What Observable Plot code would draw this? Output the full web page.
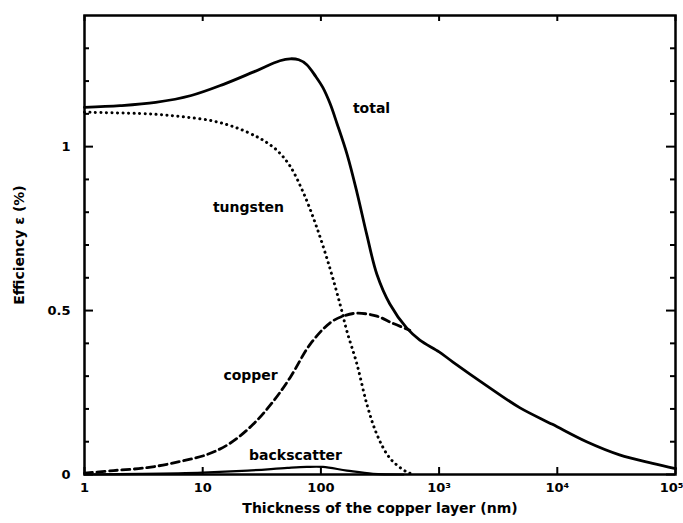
<!DOCTYPE html>
<html><head><meta charset="utf-8">
<script src="https://cdn.jsdelivr.net/npm/d3@7"></script>
<script src="https://cdn.jsdelivr.net/npm/@observablehq/plot@0.6"></script>
<style>body{margin:0;background:#fff} svg{display:block}</style>
</head><body><div id="chart"></div>
<script>
// Thickness of the copper layer (nm) and efficiency (%) per contribution
const totalT = [1, 2, 4, 8, 15, 27, 45, 55, 65, 76, 90, 104, 120, 137, 167, 202, 245, 298, 383, 531, 687, 1000, 1310, 2500, 4800, 9100, 17700, 33600, 64000, 100000];
const totalE = [1.12, 1.125, 1.135, 1.156, 1.19, 1.228, 1.262, 1.268, 1.265, 1.25, 1.215, 1.18, 1.13, 1.07, 0.975, 0.86, 0.73, 0.61, 0.52, 0.447, 0.41, 0.374, 0.343, 0.272, 0.204, 0.153, 0.10, 0.06, 0.034, 0.018];

const tungstenT = [1, 3.4, 6.5, 12.3, 19.5, 28.8, 35, 43.6, 55, 71, 92, 119, 145, 166, 202, 245, 298, 383, 531, 620];
const tungstenE = [1.105, 1.10, 1.092, 1.078, 1.057, 1.03, 1.012, 0.985, 0.94, 0.86, 0.755, 0.63, 0.52, 0.437, 0.336, 0.214, 0.122, 0.05, 0.008, 0];

const copperT = [1, 1.76, 3.4, 6.5, 10.9, 17, 26.7, 39.5, 55, 81, 119, 154, 202, 298, 406, 565];
const copperE = [0.004, 0.012, 0.021, 0.04, 0.061, 0.095, 0.153, 0.223, 0.296, 0.397, 0.462, 0.483, 0.492, 0.483, 0.461, 0.44];

const backT = [1, 3, 10, 24, 52, 76, 104, 166, 276, 500];
const backE = [0, 0.002, 0.006, 0.012, 0.02, 0.023, 0.023, 0.012, 0.002, 0];

const xTicks = [1, 10, 100, 1000, 10000, 100000];
const xTickLabels = ["1", "10", "100", "10³", "10⁴", "10⁵"];
const yMajorTicks = [0, 0.5, 1];
const yTickLabels = ["0", "0.5", "1"];
const yMinorTicks = [0.1, 0.2, 0.3, 0.4, 0.6, 0.7, 0.8, 0.9, 1.1, 1.2, 1.3];

const curveLabels = ["total", "tungsten", "copper", "backscatter"];
const labelT = [268, 24.4, 25.4, 61];
const labelE = [1.116, 0.814, 0.302, 0.058];

const xTitle = "Thickness of the copper layer (nm)";
const yTitle = "Efficiency ε (%)";

const W = 683, H = 523, mL = 84, mR = 8, mT = 15, mB = 49;
const pw = W - mL - mR, ph = H - mT - mB;
const series = (t, e) => t.map((d, i) => ({t: d, e: e[i]}));
const fmtX = d => xTickLabels[xTicks.indexOf(d)];

const chart = Plot.plot({
  width: W, height: H,
  marginLeft: mL, marginRight: mR, marginTop: mT, marginBottom: mB,
  style: {fontFamily: "DejaVu Sans", fontWeight: "bold", fontSize: "13px", color: "black", background: "white"},
  x: {type: "log", domain: [1, 1e5], label: null},
  y: {domain: [0, 1.4], label: null},
  marks: [
    Plot.axisX({ticks: xTicks.slice(0, -1), anchor: "bottom", tickSize: 0, tickPadding: 8, label: null,
      tickFormat: fmtX, fontSize: 13}),
    Plot.axisX({ticks: xTicks.slice(-1), anchor: "bottom", tickSize: 0, tickPadding: 8, label: null,
      tickFormat: fmtX, fontSize: 13, textAnchor: "end", dx: 8}),
    Plot.axisY({ticks: yMajorTicks, anchor: "left", tickSize: 0, tickPadding: 14, label: null,
      tickFormat: d => yTickLabels[yMajorTicks.indexOf(d)], fontSize: 13}),
    // inward ticks
    Plot.tickX(xTicks, {x: d => d, insetTop: ph - 7, stroke: "black", strokeWidth: 2}),
    Plot.tickX(xTicks, {x: d => d, insetBottom: ph - 6, stroke: "black", strokeWidth: 2}),
    Plot.tickY(yMajorTicks, {y: d => d, insetRight: pw - 9, stroke: "black", strokeWidth: 2}),
    Plot.tickY(yMinorTicks, {y: d => d, insetRight: pw - 5, stroke: "black", strokeWidth: 2}),
    Plot.tickY(yMajorTicks, {y: d => d, insetLeft: pw - 9, stroke: "black", strokeWidth: 2}),
    Plot.tickY(yMinorTicks, {y: d => d, insetLeft: pw - 5, stroke: "black", strokeWidth: 2}),
    // curves
    Plot.line(series(backT, backE), {x: "t", y: "e", curve: "catmull-rom", stroke: "black", strokeWidth: 2.2}),
    Plot.line(series(copperT, copperE), {x: "t", y: "e", curve: "catmull-rom", stroke: "black", strokeWidth: 2.8, strokeDasharray: "8 4.5"}),
    Plot.line(series(tungstenT, tungstenE), {x: "t", y: "e", curve: "catmull-rom", stroke: "black", strokeWidth: 3, strokeDasharray: "0.1 5.4", strokeLinecap: "round"}),
    Plot.line(series(totalT, totalE), {x: "t", y: "e", curve: "catmull-rom", stroke: "black", strokeWidth: 2.8}),
    // curve labels
    Plot.text(curveLabels, {x: (d, i) => labelT[i], y: (d, i) => labelE[i], text: d => d, fontSize: 14, fontWeight: "bold", fill: "black"}),
    // axis titles
    Plot.text([xTitle], {frameAnchor: "bottom", lineAnchor: "middle", textAnchor: "middle", dy: 34, text: d => d, fontSize: 14, fontWeight: "bold", fill: "black"}),
    Plot.text([yTitle], {frameAnchor: "left", lineAnchor: "middle", textAnchor: "middle", dx: -65, rotate: -90, text: d => d, fontSize: 14, fontWeight: "bold", fill: "black"}),
    Plot.frame({stroke: "black", strokeWidth: 2.5})
  ]
});
document.getElementById("chart").append(chart);
</script>
</body></html>
